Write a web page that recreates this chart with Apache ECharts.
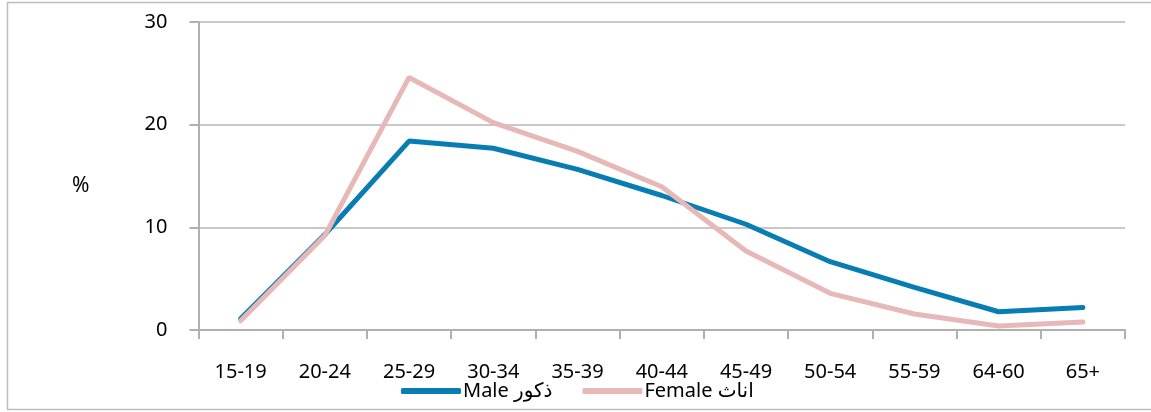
<!DOCTYPE html>
<html>
<head>
<meta charset="utf-8">
<script src="https://cdn.jsdelivr.net/npm/echarts@6/dist/echarts.min.js"></script>
<style>
html,body{margin:0;padding:0;background:#fff;}
#c{width:1151px;height:412px;}
</style>
</head>
<body>
<div id="c"></div>
<script>
const categories = ['15-19','20-24','25-29','30-34','35-39','40-44','45-49','50-54','55-59','64-60','65+'];
const maleValues = [1.1, 9.3, 18.4, 17.7, 15.65, 13.1, 10.3, 6.65, 4.15, 1.78, 2.2];
const femaleValues = [0.9, 9.2, 24.6, 20.2, 17.4, 13.95, 7.7, 3.57, 1.56, 0.39, 0.78];
const yTicks = [0, 10, 20, 30];
const maleName = 'Male ذكور';
const femaleName = 'Female اناث';

const FONT = '"Noto Sans", "DejaVu Sans", sans-serif';
const chart = echarts.init(document.getElementById('c'), null, {renderer: 'canvas'});
chart.setOption({
  animation: false,
  backgroundColor: '#fff',
  textStyle: {fontFamily: FONT},
  graphic: [
    {type: 'rect', shape: {x: 7.5, y: 2.5, width: 1160, height: 407}, style: {fill: 'none', stroke: '#bdbdbd', lineWidth: 1.5}, z: -1},
    {type: 'text', x: 72, y: 176, style: {text: '%', fontSize: 21, fill: '#000', fontFamily: FONT}}
  ],
  grid: {left: 198.5, right: 26, top: 22, bottom: 82, containLabel: false},
  legend: {
    left: 396, top: 376,
    itemWidth: 60, itemHeight: 6, itemGap: 30,
    icon: 'roundRect',
    textStyle: {fontSize: 20, color: '#000', fontFamily: FONT, padding: [0, 0, 7, -3]},
    data: [maleName, femaleName]
  },
  xAxis: {
    type: 'category',
    data: categories,
    boundaryGap: true,
    axisLine: {lineStyle: {color: '#b0b0b0', width: 2}},
    axisTick: {show: true, length: 9, lineStyle: {color: '#b0b0b0', width: 2}},
    axisLabel: {color: '#000', fontSize: 20, margin: 32, fontFamily: FONT, interval: 0}
  },
  yAxis: {
    type: 'value',
    min: 0, max: 30, interval: 10,
    axisLine: {show: true, lineStyle: {color: '#b0b0b0', width: 2}},
    axisTick: {show: true, length: 9, lineStyle: {color: '#b0b0b0', width: 2}},
    axisLabel: {color: '#000', fontSize: 20, margin: 31, fontFamily: FONT,
      formatter: v => yTicks.includes(v) ? String(v) : ''},
    splitLine: {show: true, lineStyle: {color: '#c8c8c8', width: 2}}
  },
  series: [
    {name: maleName, type: 'line', data: maleValues, symbol: 'none',
      color: '#087db4', lineStyle: {width: 5, color: '#087db4', cap: 'round'}, z: 2},
    {name: femaleName, type: 'line', data: femaleValues, symbol: 'none',
      color: '#e6b8b7', lineStyle: {width: 5, color: '#e6b8b7', cap: 'round'}, z: 3}
  ]
});
</script>
</body>
</html>
